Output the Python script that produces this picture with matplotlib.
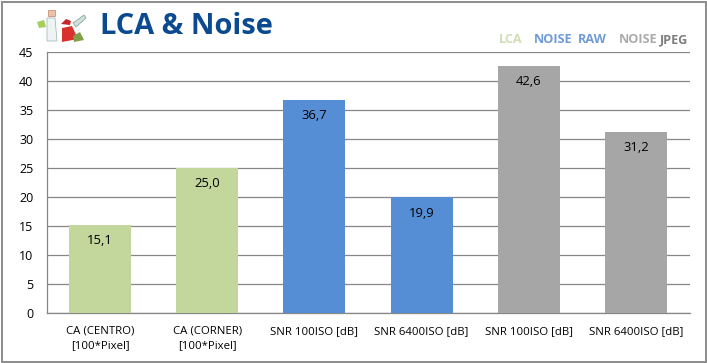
import matplotlib
matplotlib.use("Agg")
import matplotlib.pyplot as plt
from matplotlib.patches import Rectangle, Polygon

plt.rcParams["font.family"] = ["Open Sans", "DejaVu Sans"]

W, H = 707, 363
GREEN = "#C3D69B"
BLUE = "#558ED5"
GRAY = "#A6A6A6"
FRAME = "#868686"

categories = ["CA (CENTRO)\n[100*Pixel]", "CA (CORNER)\n[100*Pixel]",
              "SNR 100ISO [dB]", "SNR 6400ISO [dB]",
              "SNR 100ISO [dB]", "SNR 6400ISO [dB]"]
values = [15.1, 25.0, 36.7, 19.9, 42.6, 31.2]
labels = ["15,1", "25,0", "36,7", "19,9", "42,6", "31,2"]
colors = [GREEN, GREEN, BLUE, BLUE, GRAY, GRAY]
yticks = [0, 5, 10, 15, 20, 25, 30, 35, 40, 45]

fig = plt.figure(figsize=(W / 100, H / 100), dpi=100, facecolor="white")
ax = fig.add_axes([46.5 / W, 1 - 312.5 / H, 643 / W, 260.5 / H])

x = list(range(len(values)))
bars = ax.bar(x, values, width=0.58, color=colors, zorder=3)
for bar, v, lbl in zip(bars, values, labels):
    ax.text(bar.get_x() + bar.get_width() / 2, v - 1.6, lbl, ha="center", va="top",
            fontsize=9.4, color="black", zorder=4)

ax.set_xlim(-0.5, 5.5)
ax.set_ylim(0, 45)
ax.set_yticks(yticks)
ax.set_xticks(x)
ax.set_xticklabels(categories, fontsize=8.2, linespacing=1.4)
ax.tick_params(axis="y", length=0, labelsize=9, pad=9.5)
ax.tick_params(axis="x", length=0, pad=9.5)
ax.grid(axis="y", color=FRAME, linewidth=0.9, zorder=0)
for side in ["top", "right"]:
    ax.spines[side].set_visible(False)
for side in ["left", "bottom"]:
    ax.spines[side].set_color(FRAME)
    ax.spines[side].set_linewidth(0.9)

# outer frame of the image
fig.add_artist(Rectangle((1.5 / W, 1.5 / H), (W - 3) / W, (H - 3) / H, fill=False,
                         edgecolor="#8C8C8C", linewidth=1.4, transform=fig.transFigure))

# title and the text legend at the top
fig.text(100 / W, 1 - 26 / H, "LCA & Noise", fontsize=20.9, fontweight="bold",
         color="#0B4A91", va="center", ha="left")
legend_bits = [("LCA", 499, "#D0DDB4"), ("NOISE", 534, "#6F9BD6"), ("RAW", 578, "#6F9BD6"),
               ("NOISE", 619, "#ABABAB"), ("JPEG", 660, "#7F7F7F")]
for txt, px_x, col in legend_bits:
    fig.text(px_x / W, 1 - 43 / H, txt, fontsize=9.1, fontweight="bold", color=col,
             va="baseline", ha="left")

# small cartoon logo, just rough shapes
def px(a, b):
    return (a / W, 1 - b / H)

logo = [
    Polygon([px(47, 18), px(55, 18), px(57, 41), px(47, 41)], closed=True, facecolor="#EEF3F3", edgecolor="#9AB0B0", linewidth=0.5),
    Polygon([px(37, 22), px(44, 20), px(46, 27), px(39, 28)], closed=True, facecolor="#A6CF5A", edgecolor="none"),
    Polygon([px(62, 28), px(72, 26), px(78, 39), px(62, 42)], closed=True, facecolor="#D8322E", edgecolor="none"),
    Polygon([px(73, 23), px(84, 15), px(86, 18), px(76, 27)], closed=True, facecolor="#CFE0DC", edgecolor="#7F9A96", linewidth=0.5),
    Polygon([px(61, 24), px(66, 19), px(71, 21), px(70, 25)], closed=True, facecolor="#C8242B", edgecolor="none"),
    Polygon([px(73, 36), px(80, 32), px(84, 40), px(74, 42)], closed=True, facecolor="#7FA04A", edgecolor="none"),
]
for p in logo:
    p.set_transform(fig.transFigure)
    fig.add_artist(p)
fig.add_artist(Rectangle(px(48, 16), 7 / W, 6 / H, facecolor="#EBC4A8", edgecolor="#B5694F",
                         linewidth=0.4, transform=fig.transFigure))

fig.savefig("out.png", dpi=100)
